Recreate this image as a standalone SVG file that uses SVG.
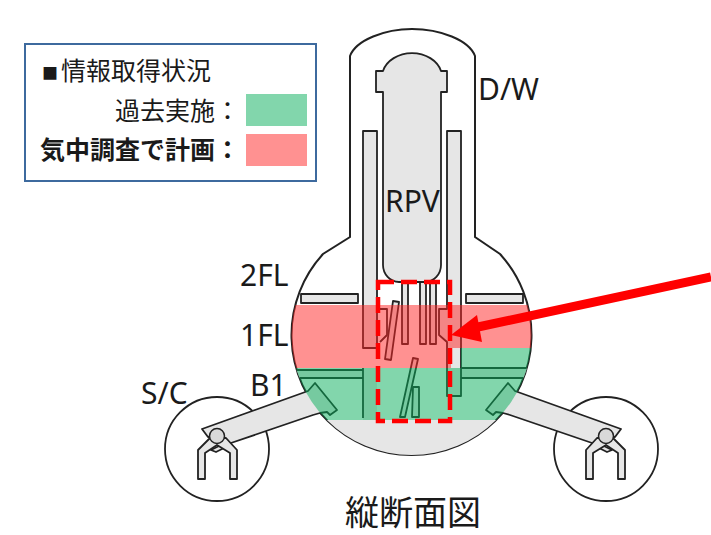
<svg xmlns="http://www.w3.org/2000/svg" width="711" height="535" viewBox="0 0 711 535">
<style>
.s{stroke:#222;stroke-width:1.8;fill:#e6e6e6;stroke-linejoin:round}
.l{stroke:#222;stroke-width:1.8;fill:none;stroke-linejoin:round}
.t{font-family:"Noto Sans","DejaVu Sans",sans-serif;font-size:30px;fill:#1a1a1a}
.j{font-family:"Noto Sans CJK JP",sans-serif;fill:#1a1a1a}
</style>
<defs>
<clipPath id="sph"><circle cx="411.5" cy="335" r="120"/></clipPath>
<g id="vent">
<circle class="l" cx="217" cy="449" r="52"/>
<path class="s" d="M202 429L308 391L315 383L337 410L330 415L327 412L320 413L313 415L228 444L221 436L208 437Z"/>
<path class="s" d="M211 450L221 445L226 447L216 452Z"/>
<path class="s" d="M198 450L210 438H226L237 450V479H230V453L217 445L205 453V479H198Z"/>
<circle cx="217" cy="436" r="7.5" fill="#d9d9d9" stroke="#222" stroke-width="1.5"/>
</g>
</defs>
<g id="containment">
<path d="M350 237V56C356 40 385 29 412 29C440 29 469 40 475 56V237L500 254A120 120 0 1 1 323 254Z" fill="#fff" stroke="#222" stroke-width="2"/>
<g clip-path="url(#sph)"><rect x="285" y="420" width="255" height="40" fill="#e6e6e6"/><rect x="290" y="370" width="73" height="8" fill="#e6e6e6"/><rect x="461" y="368" width="75" height="10" fill="#e6e6e6"/></g>
</g>
<g id="slabs">
<rect class="s" x="301" y="294" width="57" height="9"/>
<rect class="s" x="466" y="294" width="57" height="9"/>
<path class="l" clip-path="url(#sph)" d="M285 370H363M285 378H363M461 368H540M461 378H540"/>
</g>
<g id="shield">
<path d="M363 368H377V420H363Z" fill="#e6e6e6"/>
<path class="l" d="M363 368V418"/>
<path class="s" d="M363 131H377V348H363Z"/>
<path class="s" d="M447 131H461V396H447V342L439 335V309H447Z"/>
<path class="l" d="M378 309H387V335L380 342"/>
</g>
<g id="rpv">
<path class="s" d="M383 71A30 24 0 0 1 441 71H447V92H441V265C441 274 434 282 425 282H399C390 282 383 274 383 265V92H376V71Z"/>
</g>
<g id="debris">
<rect class="s" x="402" y="282" width="6" height="62"/>
<rect class="s" x="420" y="282" width="6" height="62"/>
<rect class="s" x="430" y="282" width="6" height="62"/>
<path class="s" d="M393 301L399 302L391 360L385 359Z"/>
<path class="s" d="M413 358L418 359L405 417L400 417Z"/>
<path class="s" d="M413 387H419V417H412Z"/>
</g>
<g id="vent-left"><use href="#vent"/></g>
<g id="vent-right"><use href="#vent" transform="translate(823) scale(-1 1)"/></g>
<g id="overlay" clip-path="url(#sph)">
<path fill="#ff2323" fill-opacity=".5" d="M285 305H540V348H451V368H285Z"/>
<path fill="#06ae5a" fill-opacity=".5" d="M285 368H540V420H285ZM461 348H540V368H461Z"/>
</g>
<g id="legend">
<rect x="25" y="44" width="291" height="137" fill="#fff" stroke="#3d6a9e" stroke-width="2"/>
<text class="j" x="42" y="79" font-size="16">■</text>
<text class="j" x="61" y="80" font-size="25">情報取得状況</text>
<text class="j" x="240" y="120" font-size="25" text-anchor="end">過去実施：</text>
<text class="j" x="240" y="159" font-size="25" font-weight="700" text-anchor="end">気中調査で計画：</text>
<rect x="246" y="94" width="61" height="32" fill="#82d6ac"/>
<rect x="246" y="134" width="61" height="32" fill="#ff9191"/>
</g>
<g id="labels">
<text class="t" x="478" y="100">D/W</text>
<text class="t" x="385" y="212">RPV</text>
<text class="t" x="240" y="286">2FL</text>
<text class="t" x="240" y="346">1FL</text>
<text class="t" x="250" y="396">B1</text>
<text class="t" x="141" y="404">S/C</text>
<text class="j" x="345" y="525" font-size="34">縦断面図</text>
</g>
<g id="connectors">
<rect x="378" y="282" width="72" height="139" fill="none" stroke="#ff0000" stroke-width="4.5" stroke-dasharray="16 7"/>
<path d="M711 277L478 327" stroke="#ff0000" stroke-width="9" fill="none"/>
<path d="M451 335L477 315L482 342Z" fill="#ff0000"/>
</g>
</svg>
